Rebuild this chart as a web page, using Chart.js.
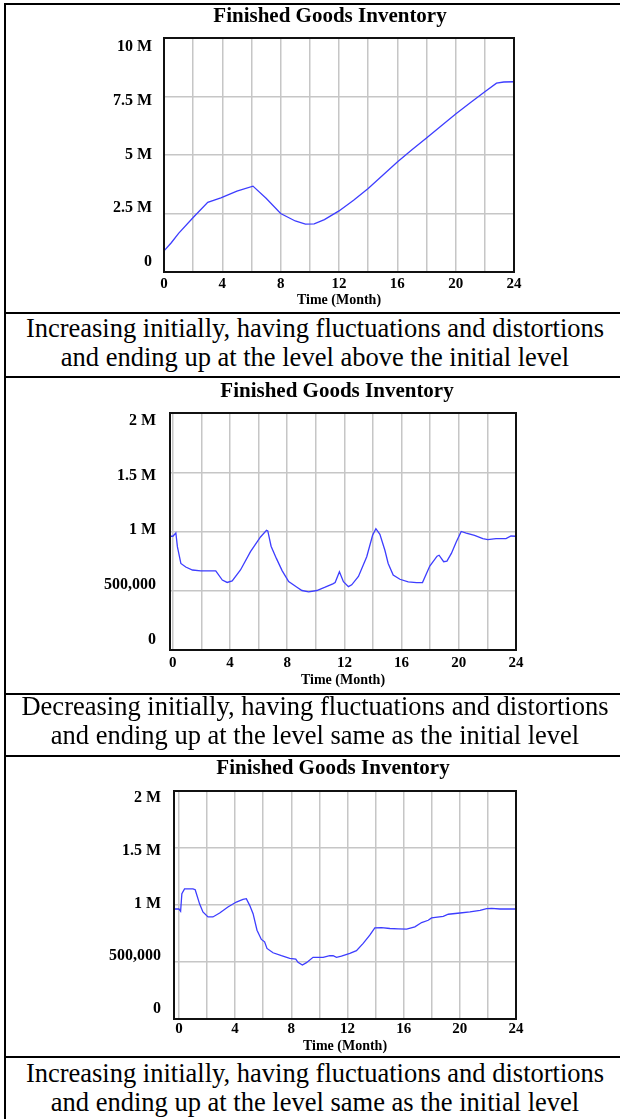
<!DOCTYPE html>
<html>
<head>
<meta charset="utf-8">
<title>Finished Goods Inventory</title>
<script src="https://cdn.jsdelivr.net/npm/chart.js@4.4.1/dist/chart.umd.min.js"></script>
<style>
html, body { margin: 0; padding: 0; background: #fff; overflow: hidden; }
#page { position: relative; width: 620px; height: 1119px; overflow: hidden; }
.hline { position: absolute; left: 4px; width: 640px; height: 2px; background: #000; }
.vline { position: absolute; left: 4px; top: 3px; width: 2px; height: 1130px; background: #000; }
canvas { position: absolute; left: 0; }
.caption {
    position: absolute; left: 6px; width: 618px; text-align: center;
    font-family: "Liberation Serif", "Times New Roman", serif;
    font-size: 26.5px; line-height: 29px; color: #000;
}
</style>
</head>
<body>
<div id="page">
    <canvas id="chart1" width="660" height="307" style="top:5px"></canvas>
    <canvas id="chart2" width="674" height="315" style="top:378px"></canvas>
    <canvas id="chart3" width="666" height="299" style="top:757px"></canvas>

    <div class="caption" style="top:314px">Increasing initially, having fluctuations and distortions<br>and ending up at the level above the initial level</div>
    <div class="caption" style="top:692px">Decreasing initially, having fluctuations and distortions<br>and ending up at the level same as the initial level</div>
    <div class="caption" style="top:1059px">Increasing initially, having fluctuations and distortions<br>and ending up at the level same as the initial level</div>

    <div class="vline"></div>
    <div class="hline" style="top:3px"></div>
    <div class="hline" style="top:312px"></div>
    <div class="hline" style="top:376px"></div>
    <div class="hline" style="top:693px"></div>
    <div class="hline" style="top:755px"></div>
    <div class="hline" style="top:1056px"></div>
</div>

<script>
// x axis: months, labels every 4, grid every 2
const xTicks = [0, 4, 8, 12, 16, 20, 24];
const xGrid = [0, 2, 4, 6, 8, 10, 12, 14, 16, 18, 20, 22, 24];

// y axis values in millions
const yTicks1 = [0, 2.5, 5, 7.5, 10];
const yLabels1 = ['0', '2.5 M', '5 M', '7.5 M', '10 M'];
const yTicks2 = [0, 0.5, 1, 1.5, 2];
const yLabels2 = ['0', '500,000', '1 M', '1.5 M', '2 M'];

// run 1 - Finished Goods Inventory (million)
const time1 = [0, 0.5, 1, 2, 3, 3.9, 5, 6.1, 7, 8, 9, 9.7, 10.3, 11, 12, 13, 14, 15, 16, 17, 18, 19, 20, 21, 22, 22.8, 23.3, 24];
const fgi1 = [0.9, 1.25, 1.65, 2.33, 2.98, 3.17, 3.46, 3.67, 3.15, 2.5, 2.18, 2.05, 2.06, 2.24, 2.61, 3.07, 3.57, 4.13, 4.7, 5.22, 5.73, 6.24, 6.75, 7.23, 7.7, 8.07, 8.12, 8.13];

// run 2
const time2 = [-0.2, 0, 0.21, 0.32, 0.56, 0.9, 1.37, 1.95, 3.0, 3.46, 3.8, 4.15, 4.73, 5.43, 6.13, 6.55, 6.64, 6.87, 7.24, 7.64,
    8.1, 8.68, 9.03, 9.5, 10.07, 10.65, 11.19, 11.35, 11.65, 11.93, 12.28, 12.51, 12.98, 13.56, 13.97, 14.2, 14.48, 14.83, 15.06, 15.41,
    15.88, 16.46, 17.04, 17.46, 17.97, 18.2, 18.48, 18.62, 18.94, 19.17, 19.48, 19.82, 20.17, 20.52, 21.1, 21.68, 22.03, 22.6, 23.3, 23.65, 24];
const fgi2 = [0.96, 0.96, 0.987, 0.87, 0.73, 0.70, 0.675, 0.667, 0.667, 0.59, 0.57, 0.583, 0.675, 0.83, 0.954, 1.01, 1.005, 0.876, 0.773, 0.67,
    0.577, 0.53, 0.502, 0.491, 0.502, 0.53, 0.558, 0.569, 0.661, 0.577, 0.535, 0.55, 0.62, 0.787, 0.968, 1.024, 0.976, 0.842, 0.73, 0.633,
    0.597, 0.575, 0.569, 0.569, 0.708, 0.745, 0.792, 0.80, 0.745, 0.75, 0.815, 0.912, 1.0, 0.987, 0.968, 0.94, 0.932, 0.94, 0.94, 0.962, 0.96];

// run 3
const time3 = [-0.35, 0, 0.12, 0.21, 0.4, 1.0, 1.16, 1.47, 1.71, 2.07, 2.42, 2.9, 3.49, 4.09, 4.56, 4.8, 5.04, 5.28, 5.56, 5.87,
    6.1, 6.27, 6.7, 7.3, 7.89, 8.32, 8.48, 8.79, 9.08, 9.55, 10.27, 10.74, 10.98, 11.22, 11.57, 12.17, 12.64, 13.12, 13.59, 13.95,
    14.42, 15.02, 15.61, 16.21, 16.8, 17.28, 17.75, 17.99, 18.82, 19.18, 20.01, 20.72, 21.44, 21.91, 22.27, 22.86, 24];
const fgi3 = [0.965, 0.965, 0.945, 1.10, 1.142, 1.142, 1.134, 1.01, 0.939, 0.895, 0.895, 0.93, 0.983, 1.026, 1.05, 1.055, 0.997, 0.924, 0.779, 0.698,
    0.677, 0.619, 0.581, 0.555, 0.532, 0.526, 0.497, 0.474, 0.494, 0.541, 0.541, 0.555, 0.555, 0.541, 0.552, 0.576, 0.599, 0.663, 0.735, 0.80,
    0.802, 0.794, 0.791, 0.788, 0.808, 0.846, 0.866, 0.887, 0.901, 0.919, 0.93, 0.939, 0.953, 0.968, 0.971, 0.965, 0.965];

Chart.defaults.font.family = '"Liberation Serif", "Times New Roman", serif';
Chart.defaults.font.weight = 'bold';
Chart.defaults.color = '#000';

// black box round the plot area
const plotFrame = {
    id: 'plotFrame',
    afterDraw(chart) {
        const a = chart.chartArea;
        const ctx = chart.ctx;
        ctx.save();
        ctx.strokeStyle = '#111';
        ctx.lineWidth = 2;
        ctx.strokeRect(a.left, a.top, a.right - a.left, a.bottom - a.top);
        ctx.restore();
    }
};

function makeChart(id, o) {
    return new Chart(document.getElementById(id), {
        type: 'line',
        data: {
            datasets: [{
                data: o.time.map((t, i) => ({ x: t, y: o.values[i] })),
                borderColor: '#3d3dff',
                borderWidth: 1.3,
                pointRadius: 0,
                tension: 0
            }]
        },
        options: {
            responsive: false,
            animation: false,
            layout: { padding: 0 },
            plugins: {
                legend: { display: false },
                tooltip: { enabled: false },
                title: {
                    display: true,
                    text: 'Finished Goods Inventory',
                    font: { size: 21, weight: 'bold', lineHeight: '24px' },
                    padding: o.titlePad
                }
            },
            scales: {
                x: {
                    type: 'linear', min: o.xMin, max: 24,
                    afterBuildTicks: ax => { ax.ticks = xGrid.map(v => ({ value: v })); },
                    afterFit: ax => { ax.height = o.xHeight; },
                    grid: { color: '#c6c6c6', lineWidth: 1.5, drawTicks: false },
                    border: { display: false },
                    ticks: {
                        padding: o.xPad, autoSkip: false, maxRotation: 0,
                        font: { size: 15, weight: 'bold' },
                        callback: v => xTicks.includes(v) ? String(v) : ''
                    },
                    title: {
                        display: true, text: 'Time (Month)',
                        font: { size: 14, weight: 'bold' },
                        padding: { top: 0, bottom: o.xTitlePad }
                    }
                },
                y: {
                    min: o.yTicks[0], max: o.yTicks[o.yTicks.length - 1],
                    afterBuildTicks: ax => { ax.ticks = o.yTicks.map(v => ({ value: v })); },
                    afterFit: ax => { ax.width = 0; },
                    grid: { color: '#c6c6c6', lineWidth: 1.5, drawTicks: false },
                    border: { display: false },
                    ticks: { display: false }
                },
                // Vensim puts the value labels a little inside the gridlines
                yLabel: {
                    position: 'left', min: o.labelMin, max: o.labelMax,
                    afterBuildTicks: ax => { ax.ticks = o.yTicks.map(v => ({ value: v })); },
                    afterFit: ax => { ax.width = o.yWidth; },
                    grid: { display: false, drawTicks: false },
                    border: { display: false },
                    ticks: {
                        padding: o.yPad,
                        font: { size: 16, weight: 'bold' },
                        callback: (v, i) => o.yLabels[i]
                    }
                },
                yRight: {
                    position: 'right', min: 0, max: 1,
                    afterFit: ax => { ax.width = o.rightWidth; },
                    grid: { display: false, drawTicks: false },
                    border: { display: false },
                    ticks: { display: false }
                }
            }
        },
        plugins: [plotFrame]
    });
}

const chart1 = makeChart('chart1', {
    time: time1, values: fgi1, xMin: 0,
    yTicks: yTicks1, yLabels: yLabels1, labelMin: -0.465, labelMax: 10.419,
    titlePad: { top: 0, bottom: 9 }, xHeight: 40, xPad: 3, xTitlePad: 3,
    yWidth: 164, yPad: 12, rightWidth: 146
});

const chart2 = makeChart('chart2', {
    time: time2, values: fgi2, xMin: -0.2,
    yTicks: yTicks2, yLabels: yLabels2, labelMin: -0.0958, labelMax: 2.0748,
    titlePad: { top: 2, bottom: 9 }, xHeight: 43, xPad: 4, xTitlePad: 4,
    yWidth: 170, yPad: 14, rightWidth: 158
});

const chart3 = makeChart('chart3', {
    time: time3, values: fgi3, xMin: -0.35,
    yTicks: yTicks2, yLabels: yLabels2, labelMin: -0.0948, labelMax: 2.066,
    titlePad: { top: 0, bottom: 10 }, xHeight: 37, xPad: 1, xTitlePad: 1,
    yWidth: 174, yPad: 13, rightWidth: 150
});
</script>
</body>
</html>
